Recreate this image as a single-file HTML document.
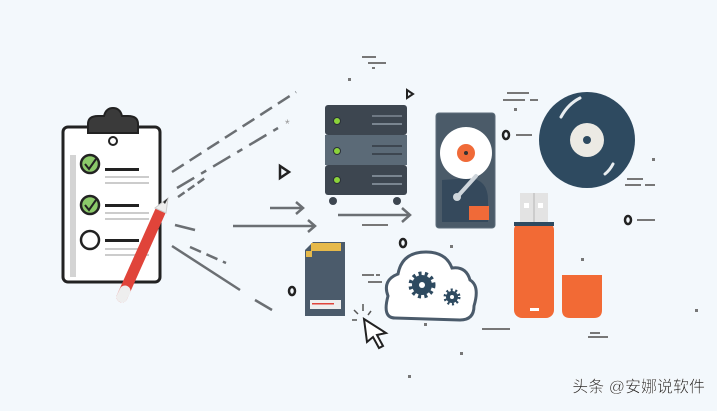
<!DOCTYPE html>
<html><head><meta charset="utf-8"><style>
html,body{margin:0;padding:0;background:#f3f8fc;}
svg{display:block}
</style></head><body>
<svg width="717" height="411" viewBox="0 0 717 411" xmlns="http://www.w3.org/2000/svg">
<rect width="717" height="411" fill="#f3f8fc"/>
<g stroke="#6b6f73" stroke-width="2.5" fill="none">
<line x1="172" y1="172" x2="296" y2="92" stroke-dasharray="14 7"/>
<line x1="177" y1="188" x2="278" y2="128" stroke-dasharray="20 8 6 8"/>
<line x1="178" y1="197" x2="205" y2="178" stroke-dasharray="8 4"/>
<line x1="175" y1="225" x2="195" y2="230"/>
<line x1="190" y1="247" x2="226" y2="263" stroke-dasharray="12 6"/>
<line x1="172" y1="246" x2="240" y2="290"/>
<line x1="255" y1="300" x2="272" y2="310"/>
<line x1="270" y1="208" x2="302" y2="208"/><polyline points="296,202 303,208 296,214"/>
<line x1="233" y1="226" x2="314" y2="226"/><polyline points="308,220 315,226 308,232"/>
<line x1="338" y1="215" x2="408" y2="215"/><polyline points="402,208 410,215 402,222"/>
</g>
<text x="285" y="128" font-family="Liberation Sans,sans-serif" font-size="12" fill="#999">*</text>
<g fill="none" stroke="#222" stroke-width="2.5">
<path d="M280 166 L280 178 L289 172 Z"/>
<ellipse cx="292" cy="291" rx="3" ry="4"/>
<ellipse cx="506" cy="135" rx="3" ry="4"/>
<ellipse cx="628" cy="220" rx="3" ry="4"/>
<ellipse cx="403" cy="243" rx="3" ry="4"/>
<path d="M407 90 L407 98 L413 94 Z" stroke-width="2"/>
</g>
<g fill="#777">
<rect x="362" y="56" width="14" height="2"/><rect x="368" y="62" width="12" height="2"/><rect x="380" y="62" width="6" height="2"/><rect x="372" y="67" width="3" height="2"/><rect x="348" y="78" width="3" height="3"/>
<rect x="507" y="92" width="22" height="2"/><rect x="503" y="99" width="22" height="2"/><rect x="530" y="99" width="8" height="2"/><rect x="514" y="108" width="3" height="3"/>
<rect x="516" y="134" width="16" height="2"/>
<rect x="627" y="178" width="16" height="2"/><rect x="625" y="184" width="16" height="2"/><rect x="645" y="184" width="10" height="2"/><rect x="652" y="158" width="3" height="3"/>
<rect x="637" y="219" width="18" height="2"/>
<rect x="362" y="274" width="12" height="2"/><rect x="376" y="274" width="4" height="2"/><rect x="368" y="281" width="14" height="2"/>
<rect x="362" y="224" width="26" height="2"/>
<rect x="482" y="328" width="28" height="2"/>
<rect x="590" y="332" width="10" height="2"/><rect x="588" y="336" width="20" height="2"/>
<rect x="450" y="245" width="3" height="3"/><rect x="424" y="323" width="3" height="3"/><rect x="581" y="258" width="3" height="3"/><rect x="460" y="352" width="3" height="3"/><rect x="408" y="375" width="3" height="3"/><rect x="695" y="309" width="3" height="3"/>
</g>
<rect x="63" y="127" width="97" height="155" rx="5" fill="#fff" stroke="#222" stroke-width="3"/>
<rect x="70" y="155" width="6" height="122" fill="#d4d4d4"/>
<path d="M88 124 Q88 116 98 116 L104 116 Q106 108 113 108 Q120 108 122 116 L128 116 Q138 116 138 124 L138 133 L88 133 Z" fill="#3a3a3a" stroke="#222" stroke-width="2"/>
<circle cx="113" cy="141" r="4" fill="#fff" stroke="#222" stroke-width="2"/>
<g stroke="#222" stroke-width="2.5">
<circle cx="90" cy="164" r="9" fill="#8bc96a"/><circle cx="90" cy="205" r="9" fill="#8bc96a"/><circle cx="90" cy="240" r="9" fill="#fff"/>
</g>
<g stroke="#222" stroke-width="2" fill="none"><polyline points="85,164 89,169 96,159"/><polyline points="85,205 89,210 96,200"/></g>
<g fill="#222"><rect x="105" y="168" width="34" height="3"/><rect x="105" y="204" width="34" height="3"/><rect x="105" y="239" width="34" height="3"/></g>
<g fill="#ccc"><rect x="105" y="176" width="44" height="2"/><rect x="105" y="182" width="44" height="2"/><rect x="105" y="212" width="44" height="2"/><rect x="105" y="218" width="44" height="2"/><rect x="105" y="248" width="44" height="2"/><rect x="105" y="254" width="44" height="2"/></g>
<line x1="122" y1="297" x2="160" y2="212" stroke="#e0443a" stroke-width="11" stroke-linecap="round"/>
<line x1="122" y1="297" x2="125" y2="291" stroke="#eee" stroke-width="11" stroke-linecap="round"/>
<path d="M155 208 L166 213 L168 198 Z" fill="#eee" stroke="#ccc"/>
<path d="M165 204 L168 198 L163 202 Z" fill="#333"/>
<rect x="325" y="105" width="82" height="30" rx="3" fill="#3d4650"/>
<rect x="325" y="135" width="82" height="30" fill="#5b6a77"/>
<rect x="325" y="165" width="82" height="30" rx="3" fill="#3d4650"/>
<circle cx="333" cy="201" r="4" fill="#3d4650"/><circle cx="397" cy="201" r="4" fill="#3d4650"/>
<g fill="#8bd33a" stroke="#2a3038"><circle cx="337" cy="121" r="3.5"/><circle cx="337" cy="151" r="3.5"/><circle cx="337" cy="180" r="3.5"/></g>
<g fill="#7a8590"><rect x="372" y="115" width="30" height="2" opacity=".8"/><rect x="372" y="123" width="30" height="2"/><rect x="372" y="145" width="30" height="2" fill="#3d4650"/><rect x="372" y="153" width="30" height="2" fill="#3d4650"/><rect x="372" y="175" width="30" height="2"/><rect x="372" y="183" width="30" height="2"/></g>
<rect x="436" y="113" width="59" height="115" rx="3" fill="#4b5b69" stroke="#5c6d7a"/>
<path d="M442 180 L442 222 L488 222 L488 200 Q488 180 470 178 Z" fill="#35495c"/>
<circle cx="466" cy="153" r="26" fill="#fff"/>
<circle cx="466" cy="153" r="9" fill="#f06a38"/><circle cx="466" cy="153" r="2" fill="#333"/>
<line x1="476" y1="176" x2="458" y2="196" stroke="#cfd6dc" stroke-width="4" stroke-linecap="round"/>
<circle cx="457" cy="197" r="4" fill="#cfd6dc"/>
<rect x="469" y="206" width="20" height="14" fill="#f06a38"/>
<circle cx="587" cy="140" r="48" fill="#2e4a60"/>
<circle cx="587" cy="140" r="17" fill="#eceae4"/><circle cx="587" cy="140" r="4" fill="#2e4a60"/>
<path d="M561 117 Q568 104 580 98" stroke="#e8edf0" stroke-width="3" fill="none" stroke-linecap="round"/>
<path d="M613 164 Q610 170 605 174" stroke="#e8edf0" stroke-width="3" fill="none" stroke-linecap="round"/>
<rect x="520" y="193" width="28" height="30" fill="#e3e3e3"/><rect x="533" y="193" width="2" height="30" fill="#ccc"/>
<rect x="524" y="203" width="5" height="5" fill="#fff"/><rect x="538" y="203" width="5" height="5" fill="#fff"/>
<rect x="514" y="222" width="40" height="96" rx="8" fill="#f26a35"/>
<rect x="514" y="222" width="40" height="4" fill="#2e4a60"/>
<rect x="530" y="308" width="9" height="3" fill="#fff"/>
<path d="M562 275 L602 275 L602 310 Q602 318 594 318 L570 318 Q562 318 562 310 Z" fill="#f26a35"/>
<path d="M305 250 L313 242 L345 242 L345 316 L305 316 Z" fill="#4b5b6b"/>
<g fill="#e6b94a"><rect x="311" y="243" width="30" height="8"/><rect x="306" y="251" width="6" height="6"/></g>
<rect x="310" y="300" width="31" height="9" fill="#eee"/><rect x="312" y="303" width="22" height="1.5" fill="#e0443a"/>
<path d="M395 318 Q382 318 388 296 Q382 280 398 274 Q402 252 426 252 Q446 252 452 268 Q466 266 470 280 Q480 286 474 306 Q474 320 460 320 Z" fill="#fff" stroke="#4b5b6b" stroke-width="3"/>
<g fill="#2e4a60"><circle cx="422" cy="285" r="10"/><circle cx="452" cy="297" r="6"/></g>
<g stroke="#2e4a60" stroke-width="4" stroke-dasharray="3 3.3"><circle cx="422" cy="285" r="11.5" fill="none"/></g>
<g stroke="#2e4a60" stroke-width="3" stroke-dasharray="2 2.5"><circle cx="452" cy="297" r="7" fill="none"/></g>
<circle cx="422" cy="285" r="3" fill="#fff"/><circle cx="452" cy="297" r="2" fill="#fff"/>
<path d="M364 319 L386 333 L377 335 L383 346 L379 348 L373 337 L367 342 Z" fill="#fff" stroke="#222" stroke-width="2"/>
<g stroke="#555" stroke-width="1.5"><line x1="363" y1="304" x2="363" y2="311"/><line x1="354" y1="310" x2="358" y2="314"/><line x1="352" y1="320" x2="357" y2="320"/><line x1="371" y1="311" x2="368" y2="315"/></g>
<text x="705" y="392" text-anchor="end" font-family="Liberation Sans,'Noto Sans CJK SC',sans-serif" font-size="16" fill="#222" stroke="#fff" stroke-width="0.4">头条 @安娜说软件</text>
</svg>
</body></html>
